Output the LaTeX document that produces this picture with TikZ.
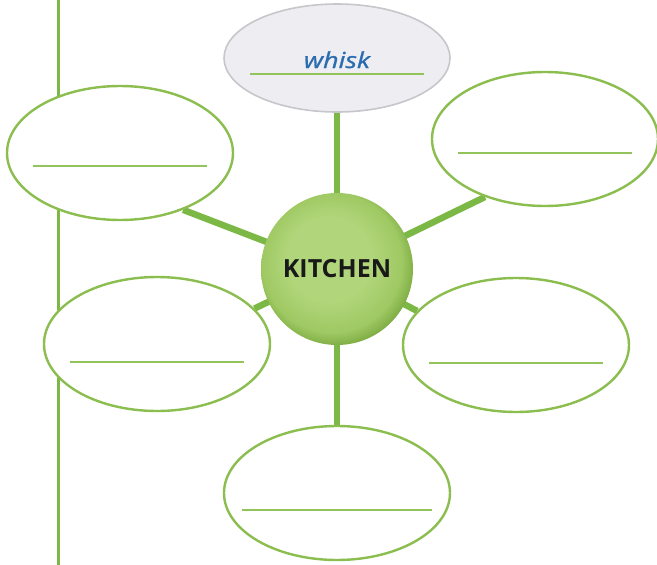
\documentclass[tikz,border=0pt]{standalone}
\usepackage{fontspec}
\usepackage{xcolor}
\usepackage{tikz}
\usetikzlibrary{shapes.geometric, backgrounds}
\newfontfamily\hubfont{Open Sans}
\newfontfamily\handfont[FakeStretch=1.22, FakeBold=1.2]{Open Sans}
\definecolor{rimgreen}{HTML}{8BBD4F}
\definecolor{spokegreen}{HTML}{7CB845}
\definecolor{linegreen}{HTML}{93C45C}
\definecolor{greyfill}{HTML}{EEEEF2}
\definecolor{greyrim}{HTML}{C6C6CB}
\definecolor{inkblue}{HTML}{2B6CB0}
\definecolor{hubHi}{HTML}{B0D57A}
\definecolor{hubMid}{HTML}{9FC963}
\definecolor{hubRim}{HTML}{6E9F34}
\pgfdeclareradialshading{hubshade}{\pgfpoint{-4bp}{5bp}}{%
    color(0bp)=(hubHi); color(14bp)=(hubHi);
    color(23bp)=(hubMid); color(29bp)=(hubRim); color(40bp)=(hubRim)}

\begin{document}
\begin{tikzpicture}[x=1pt, y=-1pt,
    oval/.style={
        ellipse, draw=rimgreen, line width=2.4pt, fill=white,
        minimum width=226pt, minimum height=134pt, inner sep=0pt,
    },
    greyoval/.style={
        oval, draw=greyrim, line width=1.6pt, fill=greyfill,
        minimum height=108pt,
    },
    hubball/.style={
        circle, minimum size=152pt, inner sep=0pt, shading=hubshade,
        font=\hubfont\bfseries\fontsize{25}{28}\selectfont, text=black!90,
    },
    spoke/.style={draw=spokegreen, line width=6.5pt},
    rail/.style={draw=spokegreen, line width=3pt},
    writeline/.style={draw=linegreen, line width=1.6pt},
    handword/.style={font=\handfont\itshape\fontsize{22}{25}\selectfont, text=inkblue},
]
\useasboundingbox (0,0) rectangle (657,565);

% ── Ovals round the hub ────────────────────────────────────────────────
\node[greyoval] (otop) at (337,58)  {};
\node[oval]     (otl)  at (120,153) {};
\node[oval]     (otr)  at (545,139) {};
\node[oval]     (oml)  at (157,344) {};
\node[oval]     (omr)  at (516,345) {};
\node[oval]     (obot) at (337,493) {};

% writing lines
\draw[writeline] ([shift={(-87pt,-16pt)}]otop.center) -- ++(174,0);
\draw[writeline] ([shift={(-87pt,-13pt)}]otl.center)  -- ++(174,0);
\draw[writeline] ([shift={(-87pt,-14pt)}]otr.center)  -- ++(174,0);
\draw[writeline] ([shift={(-87pt,-18pt)}]oml.center)  -- ++(174,0);
\draw[writeline] ([shift={(-87pt,-18pt)}]omr.center)  -- ++(174,0);
\draw[writeline] ([shift={(-95pt,-17pt)}]obot.center) -- ++(190,0);

\node[handword, anchor=base] (word) at ([yshift=-10pt]otop.center) {whisk};

% ── Hub ────────────────────────────────────────────────────────────────
\node[hubball] (hub) at (337,269) {KITCHEN};

% ── Spokes and rail behind everything ─────────────────────────────────
\coordinate (railtop) at (58,0);
\coordinate (railbot) at (58,565);
\begin{scope}[on background layer]
    \draw[rail] (railtop) -- (railbot);
    \draw[spoke] (hub.center) -- (otop.center);
    \draw[spoke] (hub.center) -- (obot.center);
    \draw[spoke] (hub.center) -- (otl.-42);
    \draw[spoke] (hub.center) -- (otr.224);
    \draw[spoke] (hub.center) -- (oml.20);
    \draw[spoke] (hub.center) -- (omr.161);
\end{scope}

\end{tikzpicture}
\end{document}
